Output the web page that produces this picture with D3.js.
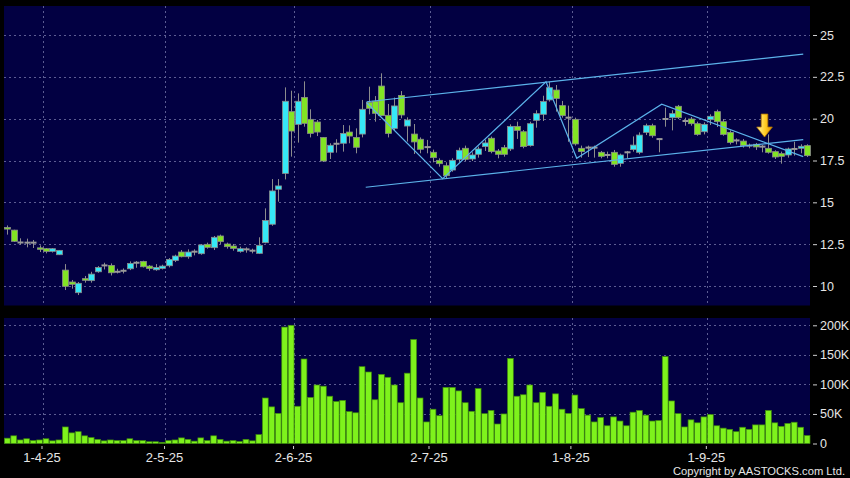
<!DOCTYPE html>
<html><head><meta charset="utf-8">
<script src="https://cdn.jsdelivr.net/npm/d3@7"></script>
<style>
html,body{margin:0;padding:0;background:#000;}
svg{display:block;}
text{font-family:"Liberation Sans",Arial,sans-serif;}
</style></head>
<body>
<svg id="chart" width="850" height="478"></svg>
<script>
// ---- data ----
const openP  = [13.50,13.34,12.60,12.59,12.59,12.28,12.23,12.07,11.87,10.95,10.24,9.60,10.44,10.32,10.85,11.23,11.23,10.85,10.91,11.03,11.39,11.47,11.19,10.97,11.05,11.21,11.53,12.03,11.75,12.05,11.93,12.49,12.29,12.99,12.51,12.39,12.07,12.19,12.11,11.95,12.59,13.69,15.78,16.73,20.42,19.66,21.27,19.96,19.80,18.88,17.99,18.50,18.53,19.20,18.88,19.08,20.98,21.04,21.95,20.20,19.42,21.39,19.56,19.08,18.77,18.30,17.99,17.51,17.19,16.93,17.57,18.23,17.59,17.87,18.33,18.83,18.07,18.27,18.19,19.54,19.22,18.39,19.90,20.26,21.12,21.71,20.78,20.06,19.96,18.23,18.27,18.27,17.99,17.83,17.99,17.33,17.99,18.15,17.99,19.18,19.58,18.78,19.98,20.06,20.74,19.86,19.98,19.70,19.22,19.94,20.42,19.82,19.18,18.70,18.66,18.39,18.47,18.33,18.23,18.03,17.91,17.83,18.19,18.23,18.39];
const highP  = [13.62,13.36,12.85,12.83,12.75,12.43,12.27,12.27,12.15,11.31,10.36,10.24,10.60,10.85,11.19,11.39,11.35,11.03,11.05,11.47,11.49,11.51,11.25,11.31,11.27,11.67,11.87,12.15,12.19,12.19,12.51,12.59,12.99,13.07,12.59,12.51,12.35,12.31,12.23,12.91,14.64,16.39,16.39,21.87,21.67,21.51,22.23,20.56,19.92,18.90,18.53,18.77,19.62,19.60,19.42,21.12,21.91,21.35,22.71,20.88,21.26,21.65,20.08,19.68,18.88,18.73,18.15,17.63,17.39,17.63,18.27,18.39,17.99,18.33,18.75,18.93,18.19,18.43,19.66,19.82,19.32,19.82,20.50,21.37,22.21,22.01,21.06,20.78,20.06,18.39,18.39,18.39,18.07,18.03,18.13,17.91,18.07,18.94,19.18,19.70,19.70,18.82,20.66,20.50,20.82,20.06,20.10,19.82,19.78,20.26,20.54,19.98,19.30,18.82,18.78,18.51,18.55,18.43,19.06,18.11,18.03,18.27,18.62,18.47,18.47];
const lowP   = [13.07,12.63,12.47,12.31,12.27,12.03,11.95,12.00,11.85,9.76,9.84,9.46,10.20,10.20,10.79,10.99,10.63,10.75,10.75,10.95,11.09,11.11,10.91,10.91,10.99,11.11,11.43,11.71,11.63,11.83,11.87,12.23,12.15,12.51,12.23,12.11,11.99,11.99,11.95,11.91,12.55,13.60,15.04,16.37,17.73,18.57,19.52,18.88,18.96,17.41,17.59,17.97,18.03,18.53,17.93,18.88,20.26,19.82,20.16,18.88,19.32,20.02,18.63,17.89,17.93,17.93,17.39,17.13,16.43,16.83,17.39,17.47,17.47,17.67,18.07,17.93,17.63,17.73,18.07,18.79,18.23,18.33,19.46,19.86,21.02,20.42,20.06,18.62,18.39,17.67,17.71,17.67,17.63,17.63,17.13,17.13,17.63,18.03,17.87,19.02,18.86,17.99,19.52,19.30,19.98,19.58,19.58,18.98,19.06,19.62,19.50,18.98,18.46,18.46,18.27,18.23,18.13,17.99,17.91,17.59,17.31,17.67,17.79,17.93,17.71];
const closeP = [13.40,12.67,12.60,12.59,12.59,12.22,12.07,12.23,12.13,9.98,10.10,10.16,10.34,10.71,11.11,11.23,10.79,10.85,10.91,11.35,11.39,11.15,11.05,11.11,11.19,11.59,11.79,11.75,12.03,12.05,12.45,12.31,12.91,12.65,12.35,12.25,12.23,12.19,12.11,12.43,13.92,15.68,15.98,21.04,19.26,21.04,19.72,19.12,19.20,17.47,18.41,18.50,19.12,18.96,18.29,20.56,20.62,20.32,20.18,19.12,20.76,20.22,19.92,18.61,18.17,18.30,17.67,17.31,16.59,17.51,18.11,17.57,17.83,18.19,18.55,18.03,17.87,17.87,19.54,19.30,18.33,19.70,20.30,21.02,21.85,21.21,20.18,20.06,18.49,18.03,18.27,18.27,17.75,17.83,17.27,17.83,17.99,18.42,19.02,19.58,18.98,18.78,19.98,20.30,20.06,19.86,19.70,19.06,19.66,20.14,19.82,19.06,18.58,18.70,18.39,18.39,18.31,18.33,17.99,17.71,17.75,18.19,18.19,18.35,17.79];
const volumeK = [9,13,6,8,5,6,8,4.5,6,28,18,20,13,10,7,4.5,6,5,5,8,5,5,3,3,2,5,6,9.5,7,4,9.5,5,13,7,4,5,3.5,7,4.5,15,77,62,51,197,200,63,143,78,99,97,80,71,73,54,52,130,121,74,117,112,99,69,119,176,77,36.5,58,47,95,95,89,69,54.5,93,50.5,56,33,50,144,80,82.5,99,69,86.5,63,84,58,51,82,59,48,36.5,44,30,45,38,30,53,56,48,38,39,147,72,50.5,28,40,35,45,49,30,26,24,20,27.5,24,31.5,31.5,56,35,29,34,36,27.5,13.5];

const xTickIdx    = [5, 24, 44, 65, 87, 108];
const xTickLabels = ["1-4-25","2-5-25","2-6-25","2-7-25","1-8-25","1-9-25"];
const priceTicks  = [10, 12.5, 15, 17.5, 20, 22.5, 25];
const volTicks    = [0, 50000, 100000, 150000, 200000];
const volTickLabels = ["0","50K","100K","150K","200K"];

// drawn trend lines, [bar index, price]
const upperChannel = [[55.72, 21.01],[123.4, 23.86]];
const lowerChannel = [[55.57, 15.90],[123.4, 18.75]];
const zigzag = [[55.72,20.95],[67.5,16.42],[83.52,22.2],[88.28,17.63],[101.46,20.86],[123.4,17.73]];
const arrowMark = {idx: 117.4, price: 18.9};

// ---- layout ----
const W = 850, H = 478;
const P = {left:4, right:810, top:6, bottom:305.5};
const V = {left:4, right:810, top:318, bottom:443.5};

const n = closeP.length;
const x  = d3.scaleLinear().domain([0, n-1]).range([7.3, 807.1]);
const yP = d3.scaleLinear().domain([10, 25]).range([286, 35]);
const yV = d3.scaleLinear().domain([0, 200000]).range([443.5, 325.3]);

const svg = d3.select("#chart");
svg.append("rect").attr("width",W).attr("height",H).attr("fill","#000");

const panelFill = "#020042", gridCol = "#5c5c92";
svg.append("rect").attr("x",P.left).attr("y",P.top).attr("width",P.right-P.left).attr("height",P.bottom-P.top).attr("fill",panelFill);
svg.append("rect").attr("x",V.left).attr("y",V.top).attr("width",V.right-V.left).attr("height",V.bottom-V.top).attr("fill",panelFill);

// grids
const gP = svg.append("g").attr("stroke",gridCol).attr("stroke-dasharray","2,3").attr("stroke-width",1);
priceTicks.forEach(t=>{ const yy=Math.round(yP(t))+0.5;
  gP.append("line").attr("x1",P.left).attr("x2",P.right).attr("y1",yy).attr("y2",yy); });
xTickIdx.forEach(i=>{ const xx=Math.round(x(i+0.5))+0.5;
  gP.append("line").attr("x1",xx).attr("x2",xx).attr("y1",P.top).attr("y2",P.bottom);
  gP.append("line").attr("x1",xx).attr("x2",xx).attr("y1",V.top).attr("y2",V.bottom); });
volTicks.filter(t=>t>0).forEach(t=>{ const yy=Math.round(yV(t))+0.5;
  gP.append("line").attr("x1",V.left).attr("x2",V.right).attr("y1",yy).attr("y2",yy); });

// candles
const idx = d3.range(n);
const cUp = "#36e8f6", cDown = "#82e424", cEdge = "#8a8a8a";
const gC = svg.append("g");
gC.selectAll("line.wick").data(idx).join("line")
  .attr("x1",i=>Math.round(x(i))+0.5).attr("x2",i=>Math.round(x(i))+0.5)
  .attr("y1",i=>yP(highP[i])).attr("y2",i=>yP(lowP[i]))
  .attr("stroke","#8c8c8c").attr("stroke-width",1);
gC.selectAll("rect.body").data(idx).join("rect")
  .attr("x",i=>Math.round(x(i))-2.5).attr("width",6)
  .attr("y",i=> openP[i]===closeP[i] ? yP(closeP[i])-1 : yP(Math.max(openP[i],closeP[i])))
  .attr("height",i=> openP[i]===closeP[i] ? 2 : Math.max(1.5, Math.abs(yP(openP[i])-yP(closeP[i]))))
  .attr("fill",i=> openP[i]===closeP[i] ? "#9a9a9a" : (closeP[i]>openP[i] ? cUp : cDown))
  .attr("stroke",i=> openP[i]===closeP[i] ? "none" : cEdge).attr("stroke-width",0.8);

// trend lines
const line = d3.line().x(d=>x(d[0])).y(d=>yP(d[1]));
const gL = svg.append("g").attr("fill","none").attr("stroke","#5cb2ea").attr("stroke-width",1.2);
[upperChannel, lowerChannel, zigzag].forEach(d=>gL.append("path").attr("d",line(d)));

// arrow
const defs = svg.append("defs");
const grad = defs.append("linearGradient").attr("id","ag").attr("x1","0").attr("x2","1").attr("y1","0").attr("y2","0");
grad.append("stop").attr("offset","0%").attr("stop-color","#fff4a8");
grad.append("stop").attr("offset","55%").attr("stop-color","#ffcc22");
grad.append("stop").attr("offset","100%").attr("stop-color","#e09000");
const ax = x(arrowMark.idx), ay = yP(arrowMark.price);
svg.append("path")
  .attr("d",`M${ax-3.3},${ay-23} L${ax+3.3},${ay-23} L${ax+3.3},${ay-10} L${ax+7.8},${ay-10} L${ax},${ay} L${ax-7.8},${ay-10} L${ax-3.3},${ay-10} Z`)
  .attr("fill","url(#ag)").attr("stroke","#b87800").attr("stroke-width",0.8);

// volume bars
svg.append("g").selectAll("rect").data(idx).join("rect")
  .attr("x",i=>x(i)-2.9).attr("width",5.8)
  .attr("y",i=>yV(volumeK[i]*1000)).attr("height",i=>yV(0)-yV(volumeK[i]*1000))
  .attr("fill","#7ef21c").attr("stroke","#3f8a0c").attr("stroke-width",0.7);

// axes
const txtCol = "#e6e6e6";
const yAxisP = d3.axisRight(yP).tickValues(priceTicks).tickSize(4).tickPadding(3).tickFormat(d3.format("~g"));
const gyP = svg.append("g").attr("transform","translate(813,0)").call(yAxisP);
const yAxisV = d3.axisRight(yV).tickValues(volTicks).tickSize(4).tickPadding(3).tickFormat((d,i)=>volTickLabels[i]);
const gyV = svg.append("g").attr("transform","translate(813,0)").call(yAxisV);
const xAxis = d3.axisBottom(x).tickValues(xTickIdx.map(i=>i+0.3)).tickSize(3).tickPadding(4).tickFormat((d,i)=>xTickLabels[i]);
const gx = svg.append("g").attr("transform","translate(0,446)").call(xAxis);
[gyP,gyV,gx].forEach(g=>{
  g.select(".domain").remove();
  g.selectAll(".tick line").attr("stroke","#cfcfcf");
  g.selectAll(".tick text").attr("fill",txtCol).attr("font-size",12.5).attr("font-family",'"Liberation Sans",Arial,sans-serif');
});
gx.selectAll(".tick text").attr("font-size",13);

svg.append("text").attr("x",845).attr("y",475).attr("text-anchor","end")
  .attr("fill",txtCol).attr("font-size",11.2).text("Copyright by AASTOCKS.com Ltd.");
</script>
</body></html>
